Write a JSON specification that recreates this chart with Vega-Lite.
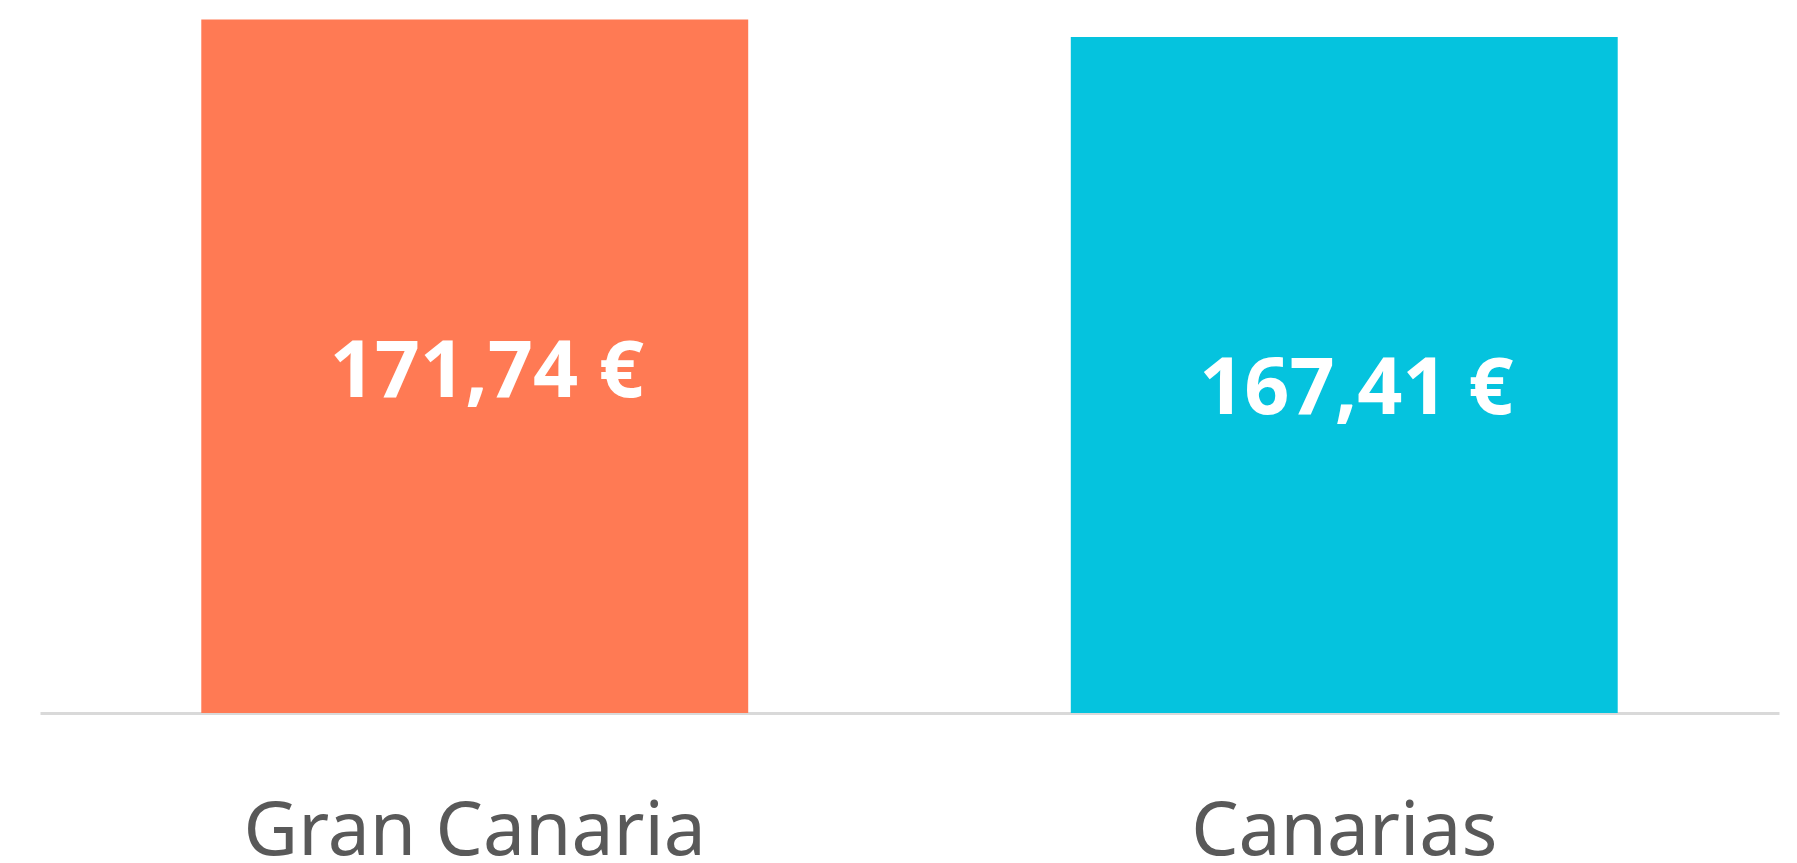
{
  "$schema": "https://vega.github.io/schema/vega-lite/v6.json",
  "width": 1739,
  "height": 713,
  "autosize": {"type": "none"},
  "padding": {"left": 40, "top": 0, "right": 18, "bottom": 150},
  "background": "white",
  "config": {
    "view": {"stroke": null},
    "locale": {"number": {"decimal": ",", "thousands": ".", "grouping": [3], "currency": ["", " €"]}}
  },
  "data": {"values": [
    {"zona": "Gran Canaria", "valor": 171.74},
    {"zona": "Canarias", "valor": 167.41}
  ]},
  "encoding": {
    "x": {
      "field": "zona", "type": "nominal", "sort": null,
      "scale": {"paddingInner": 0.371, "paddingOuter": 0.1855},
      "axis": {
        "title": null, "labelAngle": 0, "ticks": false, "grid": false,
        "domainColor": "#d9d9d9", "domainWidth": 3,
        "labelFont": "Noto Sans", "labelFontSize": 75, "labelColor": "#595959", "labelLimit": 0,
        "labelBaseline": "alphabetic", "labelPadding": 141
      }
    },
    "y": {"field": "valor", "type": "quantitative", "scale": {"domain": [0, 176.6]}, "axis": null}
  },
  "layer": [
    {
      "mark": {"type": "bar"},
      "encoding": {
        "color": {"field": "zona", "type": "nominal", "legend": null,
          "scale": {"domain": ["Gran Canaria", "Canarias"], "range": ["#FF7A54", "#05C3DE"]}}
      }
    },
    {
      "mark": {"type": "text", "font": "Noto Sans", "fontWeight": "bold", "fontSize": 79, "color": "white", "baseline": "alphabetic", "dy": 377, "dx": 12, "limit": 0},
      "encoding": {
        "text": {"field": "valor", "type": "quantitative", "format": "$.2f"}
      }
    }
  ]
}
